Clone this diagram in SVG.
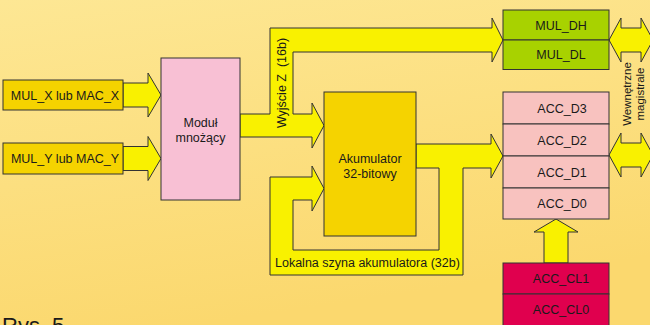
<svg xmlns="http://www.w3.org/2000/svg" width="650" height="325" viewBox="0 0 650 325">
<defs>
<linearGradient id="bg" x1="0" y1="0" x2="0.3" y2="1">
<stop offset="0" stop-color="#fde794"/>
<stop offset="1" stop-color="#fbd86e"/>
</linearGradient>
<style>
.bus{fill:#f9f100;stroke:#333;stroke-width:1;stroke-linejoin:miter}
.box{stroke:#333;stroke-width:1}
.gold{fill:#f5d300}
.pink{fill:#f8c0d4}
.green{fill:#a8d200}
.rose{fill:#f8c2bf}
.red{fill:#e0004e}
text{font-family:"Liberation Sans",Arial,sans-serif;font-size:12.5px;fill:#1a1a1a}
.c{text-anchor:middle}
</style>
</defs>
<rect width="650" height="325" fill="url(#bg)"/>
<g id="connectors">
<polygon class="bus" points="123,83 148,83 148,73 161,95 148,117 148,107 123,107"/>
<polygon class="bus" points="123,146.5 148,146.5 148,136.5 161,158.5 148,180.5 148,170.5 123,170.5"/>
<polygon class="bus" points="240,114 270,114 270,28 492,28 492,18 503,40 492,62 492,52 293,52 293,114 312,114 312,103 324,125.5 312,148 312,137 240,137"/>
<polygon class="bus" points="416,144 491,144 491,134 503,156 491,178 491,168 463,168 463,275 270,275 270,177 312,177 312,166 324,188.5 312,211 312,200 293,200 293,250 439,250 439,168 416,168"/>
<polygon class="bus" points="544,263 544,232 534,232 556,219 578,232 568,232 568,263"/>
<polygon class="bus" points="609,40 621,18 621,28 641,28 641,18 653,40 641,62 641,52 621,52 621,62"/>
<polygon class="bus" points="609,155 621,133 621,143 641,143 641,133 653,155 641,177 641,167 621,167 621,177"/>
<text transform="translate(286,83) rotate(-90)" class="c" xml:space="preserve">Wyjście Z  (16b)</text>
<text x="275" y="267">Lokalna szyna akumulatora (32b)</text>
<text transform="translate(631,94) rotate(-90)" class="c" style="font-size:11.5px">Wewnętrzne</text>
<text transform="translate(644,94) rotate(-90)" class="c" style="font-size:11.5px">magistrale</text>
</g>
<g id="mulx">
<rect class="box gold" x="3" y="80" width="120" height="30"/>
<text x="65" y="99.5" class="c">MUL_X lub MAC_X</text>
</g>
<g id="muly">
<rect class="box gold" x="3" y="143" width="120" height="31"/>
<text x="65" y="163" class="c">MUL_Y lub MAC_Y</text>
</g>
<g id="modul">
<rect class="box pink" x="161" y="58" width="79" height="142"/>
<text x="200.5" y="127" class="c">Moduł</text>
<text x="200.5" y="142" class="c">mnożący</text>
</g>
<g id="akumulator">
<rect class="box gold" x="324" y="92" width="92" height="144"/>
<text x="370" y="163" class="c">Akumulator</text>
<text x="370" y="178" class="c">32-bitowy</text>
</g>
<g id="mul_dh">
<rect class="box green" x="503" y="10" width="106" height="30"/>
<text x="561" y="29.5" class="c">MUL_DH</text>
</g>
<g id="mul_dl">
<rect class="box green" x="503" y="40" width="106" height="29.5"/>
<text x="561" y="59" class="c">MUL_DL</text>
</g>
<g id="acc_d3">
<rect class="box rose" x="503" y="92" width="106" height="32"/>
<text x="562" y="112.5" class="c">ACC_D3</text>
</g>
<g id="acc_d2">
<rect class="box rose" x="503" y="124" width="106" height="32"/>
<text x="562" y="144.5" class="c">ACC_D2</text>
</g>
<g id="acc_d1">
<rect class="box rose" x="503" y="156" width="106" height="32"/>
<text x="562" y="176.5" class="c">ACC_D1</text>
</g>
<g id="acc_d0">
<rect class="box rose" x="503" y="188" width="106" height="31"/>
<text x="562" y="208" class="c">ACC_D0</text>
</g>
<g id="acc_cl1">
<rect class="box red" x="503" y="263" width="106" height="31"/>
<text x="561" y="283" class="c">ACC_CL1</text>
</g>
<g id="acc_cl0">
<rect class="box red" x="503" y="294" width="106" height="33"/>
<text x="561" y="314" class="c">ACC_CL0</text>
</g>
<text x="2" y="333" style="font-size:22px">Rys. 5</text>
</svg>
